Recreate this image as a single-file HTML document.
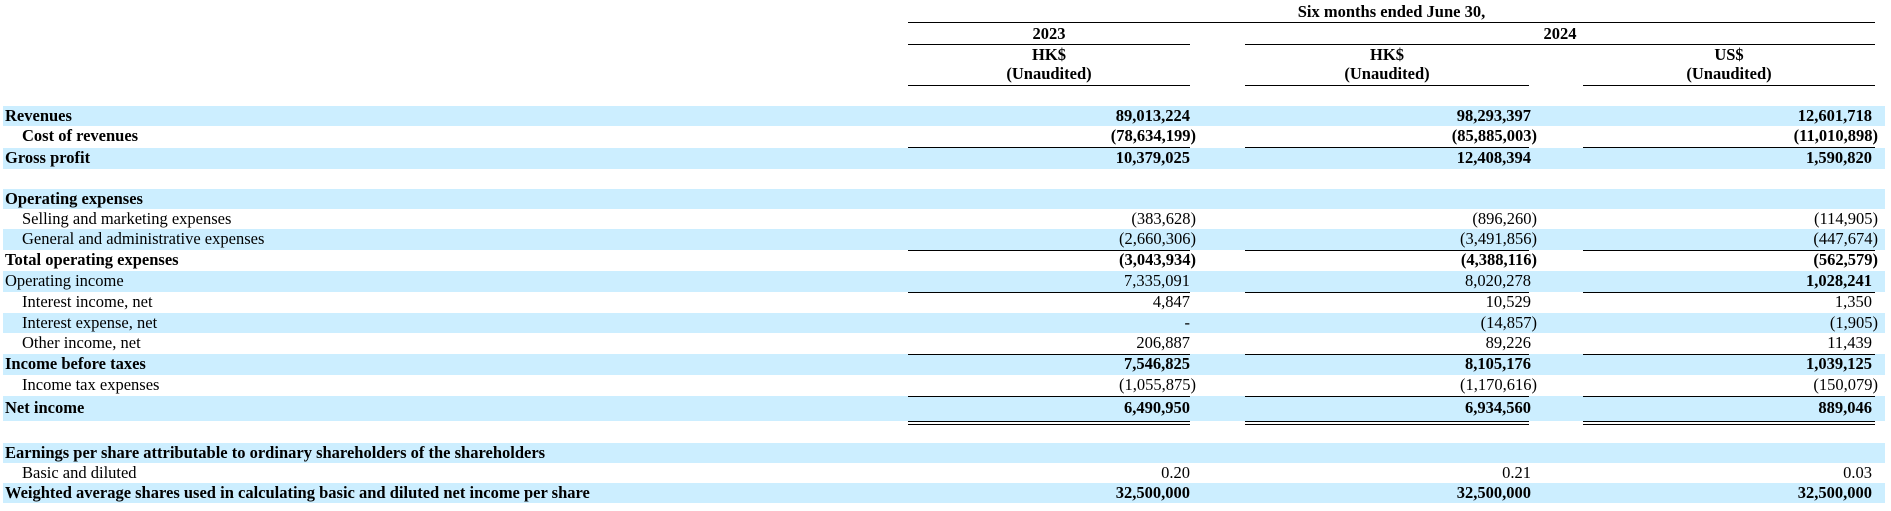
<!DOCTYPE html>
<html><head><meta charset="utf-8"><style>
body{margin:0;width:1891px;height:511px;background:#fff;font-family:"Liberation Serif",serif;font-size:16.5px;color:#000;position:relative;overflow:hidden}
.b{position:absolute;left:3px;width:1882px;background:#cceeff}
.t{position:absolute;line-height:20px;white-space:nowrap}
.bold{font-weight:bold}
.l{position:absolute;height:0;border-top:1.5px solid #000}
.c{text-align:center}
.n{position:absolute;line-height:20px;white-space:nowrap;text-align:right;width:200px}
</style></head><body>
<div class="b" style="top:106px;height:20px"></div>
<div class="b" style="top:148px;height:21px"></div>
<div class="b" style="top:189px;height:20px"></div>
<div class="b" style="top:229px;height:21px"></div>
<div class="b" style="top:271px;height:21px"></div>
<div class="b" style="top:313px;height:20px"></div>
<div class="b" style="top:354px;height:21px"></div>
<div class="b" style="top:396px;height:25px"></div>
<div class="b" style="top:443px;height:20px"></div>
<div class="b" style="top:483px;height:20px"></div>

<div class="t bold c" style="left:908px;width:967px;top:2px">Six months ended June 30,</div>
<div class="l" style="left:908px;width:967px;top:22px"></div>
<div class="t bold c" style="left:908px;width:282px;top:24px">2023</div>
<div class="t bold c" style="left:1245px;width:630px;top:24px">2024</div>
<div class="l" style="left:908px;width:282px;top:44px"></div>
<div class="l" style="left:1245px;width:630px;top:44px"></div>
<div class="t bold c" style="left:908px;width:282px;top:45px">HK$</div>
<div class="t bold c" style="left:1245px;width:284px;top:45px">HK$</div>
<div class="t bold c" style="left:1583px;width:292px;top:45px">US$</div>
<div class="t bold c" style="left:908px;width:282px;top:64px">(Unaudited)</div>
<div class="t bold c" style="left:1245px;width:284px;top:64px">(Unaudited)</div>
<div class="t bold c" style="left:1583px;width:292px;top:64px">(Unaudited)</div>
<div class="l" style="left:908px;width:282px;top:85px"></div>
<div class="l" style="left:1245px;width:284px;top:85px"></div>
<div class="l" style="left:1583px;width:292px;top:85px"></div>

<div class="t bold" style="left:5px;top:106px">Revenues</div>
<div class="t bold" style="left:22px;top:126px">Cost of revenues</div>
<div class="t bold" style="left:5px;top:148px">Gross profit</div>
<div class="t bold" style="left:5px;top:189px">Operating expenses</div>
<div class="t" style="left:22px;top:209px">Selling and marketing expenses</div>
<div class="t" style="left:22px;top:229px">General and administrative expenses</div>
<div class="t bold" style="left:5px;top:250px">Total operating expenses</div>
<div class="t" style="left:5px;top:271px">Operating income</div>
<div class="t" style="left:22px;top:292px">Interest income, net</div>
<div class="t" style="left:22px;top:313px">Interest expense, net</div>
<div class="t" style="left:22px;top:333px">Other income, net</div>
<div class="t bold" style="left:5px;top:354px">Income before taxes</div>
<div class="t" style="left:22px;top:375px">Income tax expenses</div>
<div class="t bold" style="left:5px;top:398px">Net income</div>
<div class="t bold" style="left:5px;top:443px">Earnings per share attributable to ordinary shareholders of the shareholders</div>
<div class="t" style="left:22px;top:463px">Basic and diluted</div>
<div class="t bold" style="left:5px;top:483px">Weighted average shares used in calculating basic and diluted net income per share</div>

<div class="l" style="left:908px;width:282px;top:147px"></div><div class="l" style="left:1245px;width:284px;top:147px"></div><div class="l" style="left:1583px;width:292px;top:147px"></div>
<div class="l" style="left:908px;width:282px;top:250px"></div><div class="l" style="left:1245px;width:284px;top:250px"></div><div class="l" style="left:1583px;width:292px;top:250px"></div>
<div class="l" style="left:908px;width:282px;top:292px"></div><div class="l" style="left:1245px;width:284px;top:292px"></div><div class="l" style="left:1583px;width:292px;top:292px"></div>
<div class="l" style="left:908px;width:282px;top:354px"></div><div class="l" style="left:1245px;width:284px;top:354px"></div><div class="l" style="left:1583px;width:292px;top:354px"></div>
<div class="l" style="left:908px;width:282px;top:396px"></div><div class="l" style="left:1245px;width:284px;top:396px"></div><div class="l" style="left:1583px;width:292px;top:396px"></div>
<div class="l" style="left:908px;width:282px;top:421px"></div><div class="l" style="left:1245px;width:284px;top:421px"></div><div class="l" style="left:1583px;width:292px;top:421px"></div>
<div class="l" style="left:908px;width:282px;top:424px"></div><div class="l" style="left:1245px;width:284px;top:424px"></div><div class="l" style="left:1583px;width:292px;top:424px"></div>

<div class="n bold" style="left:990px;top:106px">89,013,224</div>
<div class="n bold" style="left:1331px;top:106px">98,293,397</div>
<div class="n bold" style="left:1672px;top:106px">12,601,718</div>

<div class="n bold" style="left:996px;top:126px">(78,634,199)</div>
<div class="n bold" style="left:1337px;top:126px">(85,885,003)</div>
<div class="n bold" style="left:1678px;top:126px">(11,010,898)</div>

<div class="n bold" style="left:990px;top:148px">10,379,025</div>
<div class="n bold" style="left:1331px;top:148px">12,408,394</div>
<div class="n bold" style="left:1672px;top:148px">1,590,820</div>

<div class="n" style="left:996px;top:209px">(383,628)</div>
<div class="n" style="left:1337px;top:209px">(896,260)</div>
<div class="n" style="left:1678px;top:209px">(114,905)</div>

<div class="n" style="left:996px;top:229px">(2,660,306)</div>
<div class="n" style="left:1337px;top:229px">(3,491,856)</div>
<div class="n" style="left:1678px;top:229px">(447,674)</div>

<div class="n bold" style="left:996px;top:250px">(3,043,934)</div>
<div class="n bold" style="left:1337px;top:250px">(4,388,116)</div>
<div class="n bold" style="left:1678px;top:250px">(562,579)</div>

<div class="n" style="left:990px;top:271px">7,335,091</div>
<div class="n" style="left:1331px;top:271px">8,020,278</div>
<div class="n bold" style="left:1672px;top:271px">1,028,241</div>

<div class="n" style="left:990px;top:292px">4,847</div>
<div class="n" style="left:1331px;top:292px">10,529</div>
<div class="n" style="left:1672px;top:292px">1,350</div>

<div class="n" style="left:990px;top:313px">-</div>
<div class="n" style="left:1337px;top:313px">(14,857)</div>
<div class="n" style="left:1678px;top:313px">(1,905)</div>

<div class="n" style="left:990px;top:333px">206,887</div>
<div class="n" style="left:1331px;top:333px">89,226</div>
<div class="n" style="left:1672px;top:333px">11,439</div>

<div class="n bold" style="left:990px;top:354px">7,546,825</div>
<div class="n bold" style="left:1331px;top:354px">8,105,176</div>
<div class="n bold" style="left:1672px;top:354px">1,039,125</div>

<div class="n" style="left:996px;top:375px">(1,055,875)</div>
<div class="n" style="left:1337px;top:375px">(1,170,616)</div>
<div class="n" style="left:1678px;top:375px">(150,079)</div>

<div class="n bold" style="left:990px;top:398px">6,490,950</div>
<div class="n bold" style="left:1331px;top:398px">6,934,560</div>
<div class="n bold" style="left:1672px;top:398px">889,046</div>

<div class="n" style="left:990px;top:463px">0.20</div>
<div class="n" style="left:1331px;top:463px">0.21</div>
<div class="n" style="left:1672px;top:463px">0.03</div>

<div class="n bold" style="left:990px;top:483px">32,500,000</div>
<div class="n bold" style="left:1331px;top:483px">32,500,000</div>
<div class="n bold" style="left:1672px;top:483px">32,500,000</div>
</body></html>
